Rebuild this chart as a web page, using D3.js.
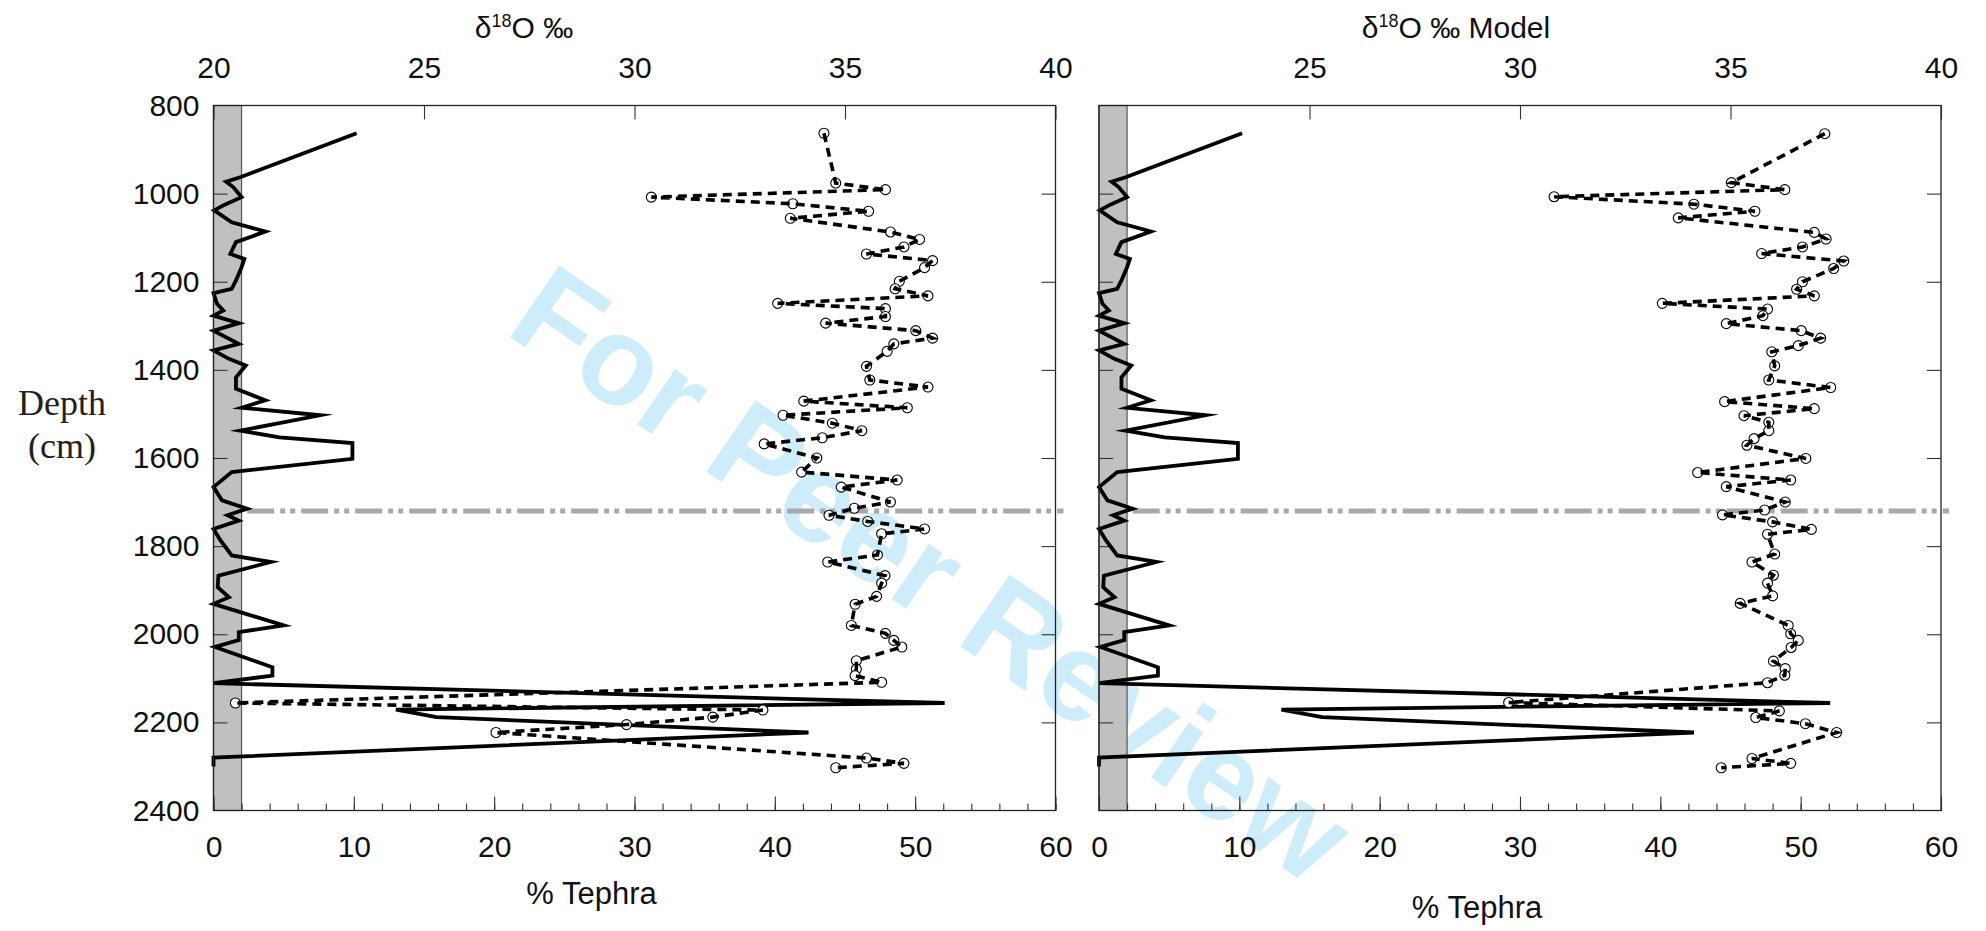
<!DOCTYPE html>
<html lang="en">
<head>
<meta charset="utf-8">
<title>Tephra and d18O against depth</title>
<script src="https://d3js.org/d3.v7.min.js"></script>
<style>
    body { margin: 0; background: #fff; }
    svg { display: block; }
    text { font-family: 'Liberation Sans', Arial, sans-serif; fill: #111; }
    .tick line { stroke: #333; stroke-width: 1.1px; }
    .tick text { font-size: 30px; fill: #111; }
</style>
</head>
<body>
<svg id="chart"></svg>
<script>
    // tick values
    const depthTicks = [800, 1000, 1200, 1400, 1600, 1800, 2000, 2200, 2400];
    const d18oTicks = [20, 25, 30, 35, 40];
    const tephraTicks = [0, 10, 20, 30, 40, 50, 60];
    const tephraMinor = d3.range(0, 61, 2);

    // % tephra (solid line) - same in both panels
    const tephraDepth = [863, 963, 973, 985, 1008, 1025, 1038, 1065, 1086, 1110, 1137, 1148, 1167, 1197, 1216, 1226,
        1250, 1265, 1277, 1294, 1311, 1341, 1356, 1375, 1390, 1417, 1443, 1469, 1486, 1503, 1538, 1553, 1566, 1602,
        1632, 1666, 1696, 1715, 1730, 1742, 1761, 1787, 1821, 1836, 1867, 1893, 1916, 1931, 1980, 1995, 2013, 2029,
        2075, 2094, 2111, 2156, 2171, 2188, 2223, 2280, 2300];
    const tephraPct = [10.2, 1.9, 0.9, 1.4, 2.0, 0.8, 0.05, 1.3, 3.7, 1.6, 1.2, 2.2, 2.0, 1.6, 1.3, 0,
        0.25, 0.7, 0, 1.8, 0, 1.8, 0, 1.1, 2.3, 1.6, 1.6, 3.7, 2.0, 7.6, 1.9, 4.7, 9.9, 9.9,
        1.3, 0, 0.6, 2.4, 1.0, 1.8, 0, 0.5, 1.3, 4.1, 0.35, 0.3, 1.1, 0, 5.0, 1.8, 1.8, 0.1,
        4.2, 4.2, 0, 52.1, 13.0, 15.9, 42.4, 0, 0];

    // measured d18O (left panel)
    const obsDepth = [863, 976, 991, 1008, 1023, 1040, 1056, 1087, 1104, 1121, 1137, 1152, 1168, 1199, 1216, 1232,
        1249, 1261, 1279, 1294, 1311, 1328, 1341, 1358, 1392, 1423, 1439, 1471, 1486, 1503, 1521, 1538, 1554, 1568,
        1600, 1632, 1650, 1666, 1700, 1714, 1730, 1744, 1761, 1772, 1820, 1836, 1867, 1884, 1914, 1932, 1980, 1998,
        2014, 2029, 2060, 2079, 2094, 2109, 2156, 2172, 2188, 2205, 2223, 2281, 2293, 2303];
    const obsD18O = [34.50, 34.78, 35.96, 30.40, 33.76, 35.56, 33.70, 36.08, 36.77, 36.40, 35.51, 37.08, 36.89, 36.29,
        36.19, 36.97, 33.40, 35.96, 35.96, 34.54, 36.68, 37.08, 36.16, 36.00, 35.51, 35.59, 36.97, 34.02, 36.48, 33.53,
        34.70, 35.40, 34.46, 33.08, 34.33, 33.97, 36.24, 34.91, 36.08, 35.22, 34.62, 35.54, 36.89, 35.87, 35.77, 34.59,
        35.95, 35.87, 35.75, 35.24, 35.15, 35.96, 36.16, 36.35, 35.27, 35.27, 35.24, 35.87, 20.52, 33.05, 31.86, 29.81,
        26.71, 35.51, 36.40, 34.78];

    // model d18O (right panel)
    const modelDepth = [864, 975, 991, 1007, 1024, 1040, 1055, 1088, 1103, 1121, 1136, 1153, 1170, 1200, 1217, 1232,
        1249, 1262, 1277, 1295, 1311, 1328, 1345, 1359, 1391, 1423, 1440, 1472, 1488, 1504, 1519, 1538, 1556, 1571,
        1601, 1633, 1650, 1665, 1700, 1718, 1729, 1745, 1762, 1773, 1818, 1836, 1866, 1884, 1913, 1930, 1980, 1999,
        2014, 2030, 2061, 2078, 2093, 2110, 2155, 2174, 2189, 2203, 2223, 2282, 2293, 2303];
    const modelD18O = [37.24, 35.02, 36.29, 30.81, 34.13, 35.58, 33.76, 36.99, 37.27, 36.71, 35.74, 37.69, 37.45, 36.71,
        36.57, 36.99, 33.38, 35.88, 35.77, 34.90, 36.68, 37.14, 36.61, 35.98, 36.05, 35.91, 37.38, 34.86, 36.99, 35.32,
        35.91, 35.91, 35.56, 35.39, 36.79, 34.22, 36.43, 34.90, 36.30, 35.81, 34.81, 36.00, 36.92, 35.88, 36.05, 35.51,
        36.02, 35.88, 36.00, 35.23, 36.37, 36.43, 36.61, 36.44, 36.02, 36.30, 36.29, 35.88, 29.73, 36.16, 35.60, 36.78,
        37.52, 35.51, 36.43, 34.78];

    const markerDepth = 1720;   // grey dash-dot reference line
    const bandTephra = 2;       // grey band width in % tephra

    // layout
    const WIDTH = 1986, HEIGHT = 931;
    const PANEL_W = 842;
    const TOP = 105.5, BOTTOM = 810.5;

    const svg = d3.select('#chart').attr('width', WIDTH).attr('height', HEIGHT);

    const y = d3.scaleLinear().domain([800, 2400]).range([TOP, BOTTOM]);

    // watermark, behind everything
    svg.append('text')
        .attr('transform', 'translate(932,574) rotate(34.5)')
        .attr('text-anchor', 'middle')
        .attr('dominant-baseline', 'central')
        .style('font-size', '126px')
        .style('font-weight', 'bold')
        .style('fill', '#cdedfb')
        .text('For Peer Review');

    const panels = [
        { left: 213.5, depth: obsDepth, d18o: obsD18O, title: '', titleX: 524,
          topTicks: d18oTicks, depthLabels: true, tephraY: 904 },
        { left: 1099, depth: modelDepth, d18o: modelD18O, title: ' Model', titleX: 1456,
          topTicks: d18oTicks.slice(1), depthLabels: false, tephraY: 918 }
    ];

    panels.forEach(drawPanel);

    // depth label
    const depthLabel = svg.append('text')
        .attr('text-anchor', 'middle')
        .style('font-family', "'Liberation Serif', 'Times New Roman', serif")
        .style('font-size', '36px')
        .style('fill', '#231f20');
    depthLabel.append('tspan').attr('x', 62).attr('y', 415).text('Depth');
    depthLabel.append('tspan').attr('x', 62).attr('y', 458).text('(cm)');

    function drawPanel(p) {
        const g = svg.append('g');
        const xT = d3.scaleLinear().domain([0, 60]).range([p.left, p.left + PANEL_W]);
        const xD = d3.scaleLinear().domain([20, 40]).range([p.left, p.left + PANEL_W]);

        // grey band
        g.append('rect')
            .attr('x', xT(0)).attr('y', TOP)
            .attr('width', xT(bandTephra) - xT(0)).attr('height', BOTTOM - TOP)
            .attr('fill', '#c0c0c0').attr('stroke', '#555').attr('stroke-width', 1.2);

        // top axis (d18O)
        g.append('g').attr('transform', `translate(0,${TOP})`)
            .call(d3.axisTop(xD).tickValues(p.topTicks).tickSizeInner(-14).tickSizeOuter(0).tickPadding(28))
            .call(a => a.select('.domain').remove());

        // bottom axis (% tephra), minor then major
        g.append('g').attr('transform', `translate(0,${BOTTOM})`)
            .call(d3.axisBottom(xT).tickValues(tephraMinor).tickSizeInner(-7).tickSizeOuter(0).tickFormat(''))
            .call(a => a.select('.domain').remove());
        g.append('g').attr('transform', `translate(0,${BOTTOM})`)
            .call(d3.axisBottom(xT).tickValues(tephraTicks).tickSizeInner(-14).tickSizeOuter(0).tickPadding(25))
            .call(a => a.select('.domain').remove());

        // depth axes, ticks on both sides
        const leftAxis = d3.axisLeft(y).tickValues(depthTicks).tickSizeInner(-14).tickSizeOuter(0)
            .tickPadding(14).tickFormat(d3.format('d'));
        if (!p.depthLabels) leftAxis.tickFormat('');
        g.append('g').attr('transform', `translate(${p.left},0)`)
            .call(leftAxis)
            .call(a => a.select('.domain').remove())
            .call(a => a.selectAll('.tick line').filter(d => d === 800 || d === 2400).remove());
        g.append('g').attr('transform', `translate(${p.left + PANEL_W},0)`)
            .call(d3.axisRight(y).tickValues(depthTicks).tickSizeInner(-14).tickSizeOuter(0).tickFormat(''))
            .call(a => a.select('.domain').remove())
            .call(a => a.selectAll('.tick line').filter(d => d === 800 || d === 2400).remove());

        // dash-dot reference line
        g.append('line')
            .attr('x1', xT(2.4)).attr('x2', p.left + PANEL_W + 8)
            .attr('y1', y(markerDepth)).attr('y2', y(markerDepth))
            .attr('stroke', '#a8a8a8').attr('stroke-width', 5)
            .attr('stroke-dasharray', '27,6,5,5,5,6');

        // tephra line
        const tephraLine = d3.line().x(i => xT(tephraPct[i])).y(i => y(tephraDepth[i]));
        g.append('path')
            .attr('d', tephraLine(d3.range(tephraDepth.length)))
            .attr('fill', 'none').attr('stroke', '#000')
            .attr('stroke-width', 3.8).attr('stroke-linejoin', 'miter').attr('stroke-miterlimit', 10);

        // d18O points and dashed line
        const idx = d3.range(p.depth.length);
        g.selectAll('circle.pt')
            .data(idx)
            .join('circle')
            .attr('class', 'pt')
            .attr('cx', i => xD(p.d18o[i])).attr('cy', i => y(p.depth[i]))
            .attr('r', 5)
            .attr('fill', '#fff').attr('stroke', '#000').attr('stroke-width', 1.1);
        const d18oLine = d3.line().x(i => xD(p.d18o[i])).y(i => y(p.depth[i]));
        g.append('path')
            .attr('d', d18oLine(idx))
            .attr('fill', 'none').attr('stroke', '#000')
            .attr('stroke-width', 3.6).attr('stroke-dasharray', '9,6');

        // frame
        g.append('rect')
            .attr('x', p.left).attr('y', TOP)
            .attr('width', PANEL_W).attr('height', BOTTOM - TOP)
            .attr('fill', 'none').attr('stroke', '#222').attr('stroke-width', 1.3);

        // titles
        const title = g.append('text')
            .attr('x', p.titleX).attr('y', 38)
            .attr('text-anchor', 'middle')
            .style('font-size', '30px');
        title.append('tspan').text('\u03b4');
        title.append('tspan').attr('dy', -11).style('font-size', '18px').text('18');
        title.append('tspan').attr('dy', 11).text('O \u2030' + p.title);

        g.append('text')
            .attr('x', (xT(0) + xT(60)) / 2 - 43).attr('y', p.tephraY)
            .attr('text-anchor', 'middle')
            .style('font-size', '31px')
            .text('% Tephra');
    }
</script>
</body>
</html>
